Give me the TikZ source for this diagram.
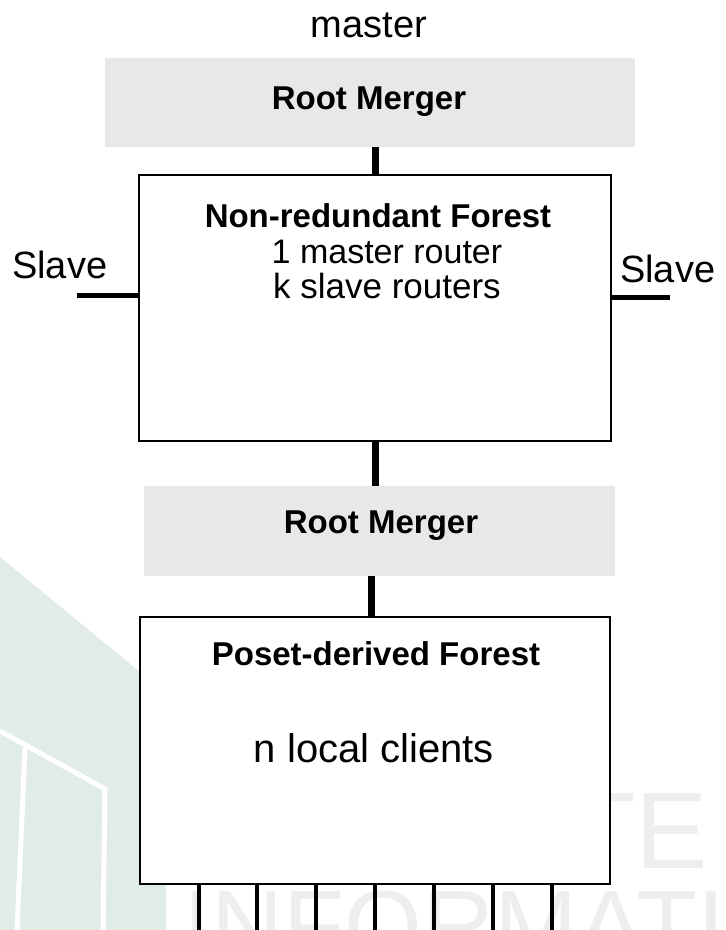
\documentclass[tikz,border=0pt]{standalone}
\usepackage{fontspec}
\setmainfont{Liberation Sans}
\definecolor{mgray}{HTML}{E8E8E8}
\definecolor{wmgreen}{HTML}{E1ECE6}
\definecolor{wmgray}{HTML}{EEEEEE}
\tikzset{
  graybox/.style={fill=mgray, draw=none, inner sep=0pt, rectangle},
  forestbox/.style={fill=white, draw=black, line width=1.5pt, inner sep=0pt, rectangle},
  conn/.style={line width=7pt, black},
  slaveline/.style={line width=5pt, black},
  clientline/.style={line width=4pt, black},
  lbl/.style={anchor=base, inner sep=0pt},
}
\newcommand{\fs}[1]{\fontsize{#1}{#1}\selectfont}
\begin{document}
\begin{tikzpicture}[x=1pt,y=-1pt]
\useasboundingbox (0,0) rectangle (726,930);
% watermark
\fill[wmgreen] (0,557) -- (140,672) -- (140,884) -- (166,884) -- (166,930) -- (0,930) -- cycle;
\draw[white, line width=5pt] (0,731) -- (105,789) -- (103,930);
\draw[white, line width=5pt] (25,748) -- (17,930);
\node[anchor=base west, inner sep=0pt, text=wmgray, font=\fs{109}] (wmte) at (569,868) {TE};
\node[anchor=base west, inner sep=0pt, text=wmgray, font=\fs{100}] (wminf) at (183,960) {INFORMATI};
% boxes
\node[graybox, minimum width=530pt, minimum height=89pt] (rm1) at (370,102.5) {};
\node[forestbox, minimum width=472pt, minimum height=266pt] (nr) at (375,308) {};
\node[graybox, minimum width=471pt, minimum height=90pt] (rm2) at (379.5,531) {};
\node[forestbox, minimum width=470pt, minimum height=267pt] (pf) at (375,750.5) {};
% texts
\node[lbl, font=\fs{38}] (master) at (369,37) {master};
\node[lbl, font=\bfseries\fs{33}] (rm1t) at (369,109) {Root Merger};
\node[lbl, font=\bfseries\fs{33}] (nrt) at (378,227) {Non-redundant Forest};
\node[lbl, font=\fs{34}] (nr1) at (387,263) {1 master router};
\node[lbl, font=\fs{35}] (nr2) at (387,298) {k slave routers};
\node[anchor=base west, inner sep=0pt, font=\fs{38}] (slL) at (12,278) {Slave};
\node[anchor=base west, inner sep=0pt, font=\fs{38}] (slR) at (620,282) {Slave};
\node[lbl, font=\bfseries\fs{33}] (rm2t) at (381,533) {Root Merger};
\node[lbl, font=\bfseries\fs{33}] (pft) at (376,665) {Poset-derived Forest};
\node[lbl, font=\fs{40}] (pfc) at (374,762) {n local clients};
% connectors
\coordinate (x1) at (375,0);
\coordinate (x3) at (371,0);
\draw[conn] (rm1.south -| x1) -- (nr.north -| x1);
\draw[conn] (nr.south -| x1) -- (rm2.north -| x1);
\draw[conn] (rm2.south -| x3) -- (pf.north -| x3);
\coordinate (sL) at (77,295);
\coordinate (sR) at (670,297);
\draw[slaveline] (sL) -- (nr.west |- sL);
\draw[slaveline] (nr.east |- sR) -- (sR);
\foreach \i/\x in {1/199,2/257,3/316,4/375,5/434,6/493,7/552} {
  \coordinate (b\i) at (\x,930);
  \draw[clientline] (pf.south -| b\i) -- (b\i);
}
\end{tikzpicture}
\end{document}
